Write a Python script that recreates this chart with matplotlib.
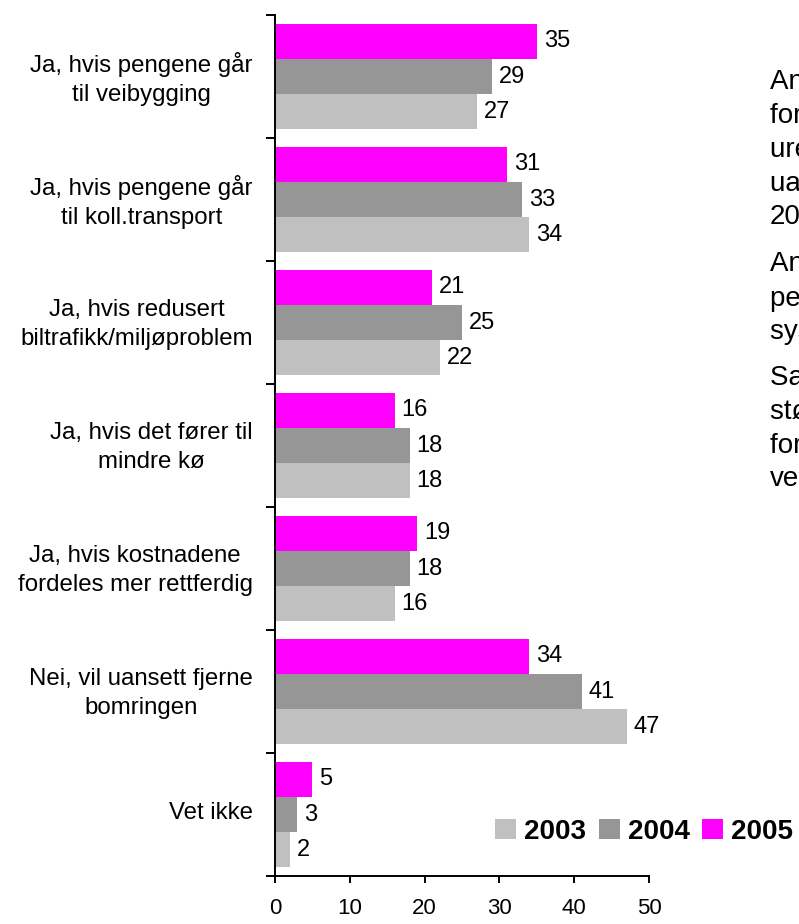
import matplotlib
matplotlib.use("Agg")
import matplotlib.pyplot as plt
import matplotlib.transforms as mtransforms
from matplotlib.patches import Patch
import numpy as np

plt.rcParams["font.family"] = ["Liberation Sans", "DejaVu Sans"]

categories = [
    "Ja, hvis pengene går\ntil veibygging",
    "Ja, hvis pengene går\ntil koll.transport",
    "Ja, hvis redusert\nbiltrafikk/miljøproblem",
    "Ja, hvis det fører til\nmindre kø",
    "Ja, hvis kostnadene\nfordeles mer rettferdig",
    "Nei, vil uansett fjerne\nbomringen",
    "Vet ikke",
]
years = ["2003", "2004", "2005"]
values_2003 = [27, 34, 22, 18, 16, 47, 2]
values_2004 = [29, 33, 25, 18, 18, 41, 3]
values_2005 = [35, 31, 21, 16, 19, 34, 5]
x_ticks = [0, 10, 20, 30, 40, 50]

notes = [
    ["Andelen som vil fjerne", "for godt den", "urettferdige bomringen",
     "uansett, har falt siden", "2003."],
    ["Andelen som vil at", "pengene skal gå til", "systemet for kollektivtrafikk har falt."],
    ["Samtidig har", "støtten økt til", "for bruk av pengene til", "veibygging."],
]

colors = {"2003": "#C0C0C0", "2004": "#969696", "2005": "#FF00FF"}

W, H = 799, 924
fig = plt.figure(figsize=(W / 100, H / 100), dpi=100)
ax = fig.add_axes([275 / W, 1 - 876 / H, (649 - 275) / W, (876 - 15) / H])

n = len(categories)
y = np.arange(n)
h = 0.285
series = [("2005", values_2005, -h), ("2004", values_2004, 0.0), ("2003", values_2003, h)]
for yr, vals, off in series:
    bars = ax.barh(y + off, vals, height=h, color=colors[yr], edgecolor="none")
    for b, v in zip(bars, vals):
        ax.annotate(f"{v}", (b.get_width(), b.get_y() + b.get_height() / 2),
                    xytext=(5, 0), textcoords="offset points",
                    va="center", ha="left", fontsize=17, color="black")

ax.set_xlim(0, 50)
ax.set_ylim(n - 0.5, -0.5)
ax.set_xticks(x_ticks)
ax.set_xticklabels([str(t) for t in x_ticks], fontsize=16)

# category ticks sit between groups; labels sit at group centres
ax.set_yticks(np.arange(n + 1) - 0.5)
ax.set_yticklabels([])
ax.set_yticks(y, minor=True)
ax.set_yticklabels(categories, minor=True, fontsize=17.3, ha="right",
                   multialignment="center", linespacing=1.42)
ax.tick_params(axis="y", which="minor", length=0, pad=16)
ax.tick_params(axis="y", which="major", length=6.5, width=1.4, direction="out")
ax.tick_params(axis="x", length=5, width=1.4, direction="out", pad=11)

lift = mtransforms.ScaledTranslation(0, 4 / 100, fig.dpi_scale_trans)
for lbl in ax.get_yticklabels(minor=True):
    lbl.set_transform(lbl.get_transform() + lift)

for s in ["top", "right"]:
    ax.spines[s].set_visible(False)
for s in ["left", "bottom"]:
    ax.spines[s].set_linewidth(1.4)

handles = [Patch(facecolor=colors[yr], edgecolor="none") for yr in years]
fig.legend(handles, years, loc="center left", bbox_to_anchor=(495 / W, 1 - 832 / H),
           ncol=3, frameon=False, prop={"weight": "bold", "size": 20},
           handlelength=0.75, handleheight=0.75, handletextpad=0.3,
           columnspacing=0.45, borderpad=0, borderaxespad=0)

# commentary beside the chart
starts = [82, 264, 378]
for para, y0 in zip(notes, starts):
    for i, line in enumerate(para):
        fig.text(770 / W, 1 - (y0 + i * 33.8) / H, line, fontsize=20,
                 va="center", ha="left")

fig.savefig("out.png", dpi=100)
